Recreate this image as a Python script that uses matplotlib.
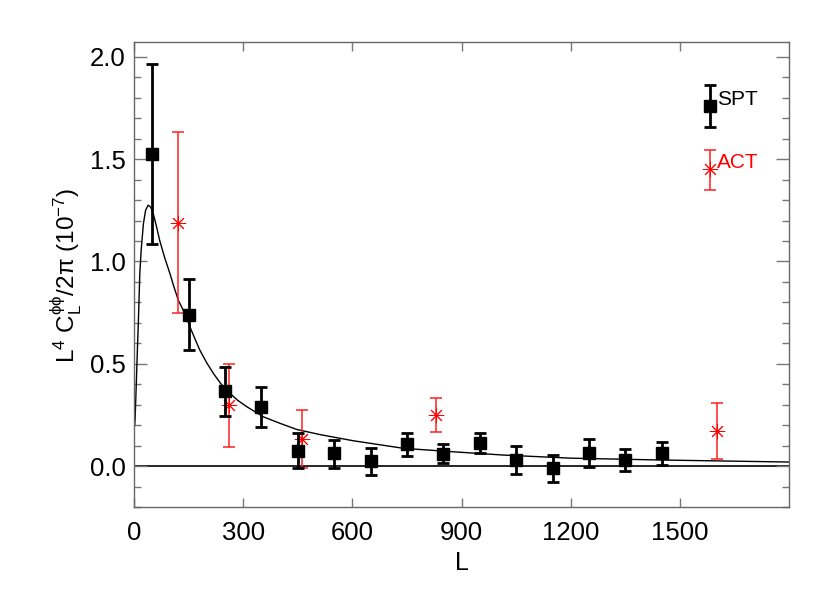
import matplotlib
matplotlib.use("Agg")
import matplotlib.pyplot as plt
from matplotlib.ticker import MultipleLocator

plt.rcParams['font.family'] = ['Liberation Sans', 'DejaVu Sans']
plt.rcParams['mathtext.fontset'] = 'custom'
plt.rcParams['mathtext.rm'] = 'Liberation Sans'
plt.rcParams['mathtext.it'] = 'Liberation Sans'
plt.rcParams['mathtext.sf'] = 'Liberation Sans'

# SPT bandpowers
spt_L = [50, 150, 250, 350, 450, 550, 650, 750, 850, 950, 1050, 1150, 1250, 1350, 1450]
spt_val = [1.523, 0.741, 0.367, 0.291, 0.076, 0.063, 0.026, 0.107, 0.060, 0.112, 0.031, -0.010, 0.066, 0.031, 0.063]
spt_lo = [1.083, 0.567, 0.247, 0.193, -0.010, -0.007, -0.042, 0.052, 0.015, 0.066, -0.038, -0.075, -0.002, -0.021, 0.006]
spt_hi = [1.964, 0.914, 0.483, 0.388, 0.164, 0.128, 0.091, 0.161, 0.109, 0.161, 0.099, 0.055, 0.132, 0.083, 0.117]

# ACT bandpowers
act_L = [122, 262, 462, 830, 1601]
act_val = [1.190, 0.299, 0.132, 0.250, 0.172]
act_lo = [0.749, 0.096, -0.010, 0.166, 0.034]
act_hi = [1.631, 0.502, 0.275, 0.332, 0.307]

# theory curve
th_L = [2, 3, 5, 7, 10, 12, 16, 20, 26, 32, 39, 46, 53, 62, 71, 85, 99, 110, 122, 140, 154, 168, 181,
        200, 218, 240, 264, 285, 310, 355, 401, 447, 511, 602, 740, 877, 1015, 1198, 1445, 1800]
th_val = [0.20, 0.226, 0.33, 0.437, 0.60, 0.70, 0.94, 1.06, 1.185, 1.25, 1.275, 1.265, 1.234, 1.17, 1.10,
          1.015, 0.94, 0.875, 0.81, 0.746, 0.68, 0.62, 0.567, 0.505, 0.454, 0.400, 0.356, 0.322, 0.291,
          0.242, 0.21, 0.18, 0.155, 0.125, 0.088, 0.071, 0.055, 0.040, 0.031, 0.021]

# legend entries
leg_L = [1582, 1582]
leg_val = [1.757, 1.449]
leg_lo = [1.657, 1.348]
leg_hi = [1.860, 1.546]
leg_names = ['SPT', 'ACT']

fig = plt.figure(figsize=(8.3, 5.93), dpi=100)
ax = fig.add_axes([0.1614, 0.1445, 0.951 - 0.1614, 0.9287 - 0.1445])
ax.set_xlim(0, 1800)
ax.set_ylim(-0.2, 2.07)

ax.axhline(0, color='black', lw=1.2, zorder=1)
ax.plot(th_L, th_val, color='black', lw=1.0, zorder=2)

def errs(v, lo, hi):
    return [[a - b for a, b in zip(v, lo)], [c - a for a, c in zip(v, hi)]]

act_marker = dict(linestyle='none', marker=(8, 2, 0), markersize=11,
                  markeredgecolor='red', markeredgewidth=0.7, zorder=4)
ax.errorbar(act_L, act_val, yerr=errs(act_val, act_lo, act_hi), fmt='none',
            ecolor='#ff2020', elinewidth=1.1, capsize=4, capthick=1.1, zorder=3)
ax.plot(act_L, act_val, **act_marker)
ax.errorbar(spt_L, spt_val, yerr=errs(spt_val, spt_lo, spt_hi), fmt='s', color='black',
            markersize=8, elinewidth=2.0, capsize=4, capthick=2.0, zorder=5)

# legend drawn in plot
ax.errorbar([leg_L[0]], [leg_val[0]], yerr=[[leg_val[0] - leg_lo[0]], [leg_hi[0] - leg_val[0]]],
            fmt='s', color='black', markersize=8, elinewidth=2.0, capsize=4, capthick=2.0, zorder=5)
ax.errorbar([leg_L[1]], [leg_val[1]], yerr=[[leg_val[1] - leg_lo[1]], [leg_hi[1] - leg_val[1]]],
            fmt='none', ecolor='#ff2020', elinewidth=1.1, capsize=4, capthick=1.1, zorder=3)
ax.plot([leg_L[1]], [leg_val[1]], **act_marker)
ax.text(leg_L[0] + 20, leg_val[0] + 0.035, leg_names[0], color='black', fontsize=15, va='center', ha='left')
ax.text(leg_L[1] + 20, leg_val[1] + 0.035, leg_names[1], color='red', fontsize=15, va='center', ha='left')

ax.set_xticks([0, 300, 600, 900, 1200, 1500])
ax.yaxis.set_major_locator(MultipleLocator(0.5))
ax.yaxis.set_minor_locator(MultipleLocator(0.1))
ax.set_yticks([0.0, 0.5, 1.0, 1.5, 2.0])
ax.set_yticklabels(['0.0', '0.5', '1.0', '1.5', '2.0'])

ax.tick_params(axis='x', which='major', direction='in', length=6.5, width=1, color='#777777',
               top=True, bottom=True, labelsize=18.5, pad=10)
ax.tick_params(axis='y', which='major', direction='in', length=9.5, width=1, color='#777777',
               left=True, right=True, labelsize=18.5, pad=6)
ax.tick_params(axis='y', which='minor', direction='in', length=5, width=1, color='#777777',
               left=True, right=True)
for s in ax.spines.values():
    s.set_color('#666666')
    s.set_linewidth(1.0)

ax.set_xlabel('L', fontsize=18, labelpad=4)
ax.set_ylabel(r'L$^{4}$ C$_{L}^{\phi\phi}$/2$\pi$ (10$^{-7}$)', fontsize=17.5, labelpad=4)

fig.savefig('out.png', dpi=100)
